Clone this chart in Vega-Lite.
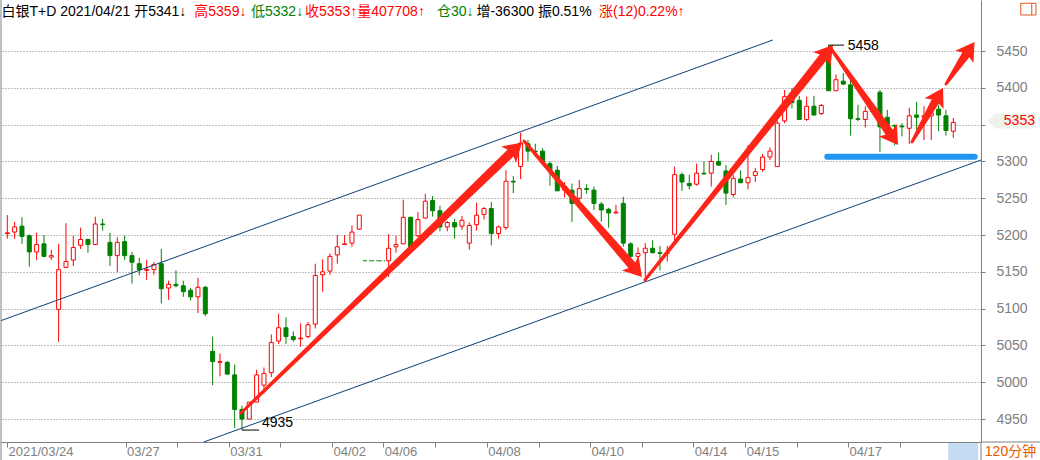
{
  "$schema": "https://vega.github.io/schema/vega-lite/v6.json",
  "width": 980,
  "height": 442,
  "autosize": {"type": "none"},
  "padding": {"left": 1, "top": 0, "right": 59, "bottom": 18},
  "background": "white",
  "config": {
    "view": {"stroke": null},
    "scale": {"continuousPadding": 0},
    "axis": {"labelFont": "Liberation Sans", "domainColor": "#808080", "tickColor": "#808080"},
    "text": {"font": "Liberation Sans, Noto Sans CJK SC"}
  },
  "datasets": {
    "candles": [
      {"i":0,"o":5202,"h":5227,"l":5195,"c":5203},
      {"i":1,"o":5204,"h":5218,"l":5195,"c":5211},
      {"i":2,"o":5212,"h":5224,"l":5188,"c":5198},
      {"i":3,"o":5199,"h":5201,"l":5157,"c":5177},
      {"i":4,"o":5177,"h":5203,"l":5166,"c":5187},
      {"i":5,"o":5188,"h":5200,"l":5170,"c":5171},
      {"i":6,"o":5170,"h":5180,"l":5166,"c":5172},
      {"i":7,"o":5099,"h":5188,"l":5055,"c":5153},
      {"i":8,"o":5156,"h":5216,"l":5156,"c":5164},
      {"i":9,"o":5166,"h":5199,"l":5158,"c":5183},
      {"i":10,"o":5186,"h":5210,"l":5181,"c":5194},
      {"i":11,"o":5194,"h":5195,"l":5176,"c":5187},
      {"i":12,"o":5187,"h":5225,"l":5187,"c":5215},
      {"i":13,"o":5215,"h":5222,"l":5206,"c":5214},
      {"i":14,"o":5190,"h":5203,"l":5158,"c":5172},
      {"i":15,"o":5172,"h":5197,"l":5150,"c":5190},
      {"i":16,"o":5191,"h":5199,"l":5166,"c":5172},
      {"i":17,"o":5172,"h":5177,"l":5134,"c":5163},
      {"i":18,"o":5161,"h":5169,"l":5145,"c":5153},
      {"i":19,"o":5152,"h":5166,"l":5139,"c":5153},
      {"i":20,"o":5153,"h":5163,"l":5146,"c":5160},
      {"i":21,"o":5161,"h":5181,"l":5107,"c":5127},
      {"i":22,"o":5128,"h":5138,"l":5112,"c":5133},
      {"i":23,"o":5133,"h":5152,"l":5129,"c":5131},
      {"i":24,"o":5131,"h":5138,"l":5116,"c":5123},
      {"i":25,"o":5125,"h":5128,"l":5111,"c":5116},
      {"i":26,"o":5116,"h":5142,"l":5094,"c":5129},
      {"i":27,"o":5129,"h":5131,"l":5090,"c":5093},
      {"i":28,"o":5042,"h":5062,"l":4996,"c":5028},
      {"i":29,"o":5027,"h":5039,"l":5008,"c":5028},
      {"i":30,"o":5027,"h":5029,"l":5011,"c":5011},
      {"i":31,"o":5010,"h":5024,"l":4938,"c":4963},
      {"i":32,"o":4963,"h":4968,"l":4935,"c":4950},
      {"i":33,"o":4950,"h":4973,"l":4950,"c":4973},
      {"i":34,"o":4973,"h":5017,"l":4973,"c":5010},
      {"i":35,"o":4996,"h":5020,"l":4985,"c":5012},
      {"i":36,"o":5013,"h":5065,"l":5007,"c":5054},
      {"i":37,"o":5056,"h":5093,"l":5052,"c":5074},
      {"i":38,"o":5074,"h":5088,"l":5052,"c":5062},
      {"i":39,"o":5062,"h":5069,"l":5055,"c":5058},
      {"i":40,"o":5059,"h":5080,"l":5048,"c":5060},
      {"i":41,"o":5062,"h":5082,"l":5060,"c":5078},
      {"i":42,"o":5079,"h":5161,"l":5073,"c":5145},
      {"i":43,"o":5146,"h":5167,"l":5123,"c":5150},
      {"i":44,"o":5151,"h":5175,"l":5146,"c":5171},
      {"i":45,"o":5173,"h":5200,"l":5161,"c":5184},
      {"i":46,"o":5187,"h":5200,"l":5187,"c":5188},
      {"i":47,"o":5189,"h":5213,"l":5184,"c":5204},
      {"i":48,"o":5208,"h":5227,"l":5207,"c":5227},
      {"i":49,"o":5165,"h":5165,"l":5165,"c":5165},
      {"i":50,"o":5165,"h":5165,"l":5165,"c":5165},
      {"i":51,"o":5165,"h":5165,"l":5165,"c":5165},
      {"i":52,"o":5165,"h":5201,"l":5143,"c":5182},
      {"i":53,"o":5184,"h":5199,"l":5176,"c":5187},
      {"i":54,"o":5188,"h":5248,"l":5188,"c":5224},
      {"i":55,"o":5224,"h":5225,"l":5182,"c":5184},
      {"i":56,"o":5199,"h":5231,"l":5197,"c":5221},
      {"i":57,"o":5223,"h":5256,"l":5222,"c":5246},
      {"i":58,"o":5247,"h":5253,"l":5225,"c":5233},
      {"i":59,"o":5233,"h":5240,"l":5205,"c":5211},
      {"i":60,"o":5211,"h":5219,"l":5205,"c":5217},
      {"i":61,"o":5217,"h":5222,"l":5195,"c":5211},
      {"i":62,"o":5212,"h":5226,"l":5207,"c":5220},
      {"i":63,"o":5189,"h":5217,"l":5180,"c":5213},
      {"i":64,"o":5214,"h":5244,"l":5206,"c":5227},
      {"i":65,"o":5228,"h":5238,"l":5221,"c":5236},
      {"i":66,"o":5236,"h":5245,"l":5186,"c":5202},
      {"i":67,"o":5202,"h":5213,"l":5195,"c":5211},
      {"i":68,"o":5210,"h":5288,"l":5207,"c":5273},
      {"i":69,"o":5273,"h":5280,"l":5257,"c":5272},
      {"i":70,"o":5293,"h":5339,"l":5276,"c":5325},
      {"i":71,"o":5324,"h":5329,"l":5300,"c":5314},
      {"i":72,"o":5314,"h":5324,"l":5306,"c":5313},
      {"i":73,"o":5314,"h":5318,"l":5295,"c":5298},
      {"i":74,"o":5297,"h":5300,"l":5267,"c":5287},
      {"i":75,"o":5288,"h":5294,"l":5260,"c":5260},
      {"i":76,"o":5261,"h":5272,"l":5251,"c":5266},
      {"i":77,"o":5261,"h":5270,"l":5218,"c":5243},
      {"i":78,"o":5250,"h":5275,"l":5244,"c":5263},
      {"i":79,"o":5263,"h":5269,"l":5256,"c":5262},
      {"i":80,"o":5261,"h":5266,"l":5234,"c":5243},
      {"i":81,"o":5242,"h":5245,"l":5218,"c":5234},
      {"i":82,"o":5235,"h":5237,"l":5210,"c":5230},
      {"i":83,"o":5230,"h":5241,"l":5229,"c":5231},
      {"i":84,"o":5243,"h":5252,"l":5184,"c":5189},
      {"i":85,"o":5188,"h":5190,"l":5167,"c":5171},
      {"i":86,"o":5171,"h":5183,"l":5166,"c":5175},
      {"i":87,"o":5176,"h":5189,"l":5137,"c":5182},
      {"i":88,"o":5182,"h":5193,"l":5175,"c":5176},
      {"i":89,"o":5176,"h":5185,"l":5152,"c":5175},
      {"i":90,"o":5175,"h":5185,"l":5164,"c":5176},
      {"i":91,"o":5201,"h":5293,"l":5193,"c":5282},
      {"i":92,"o":5282,"h":5285,"l":5260,"c":5272},
      {"i":93,"o":5270,"h":5282,"l":5262,"c":5267},
      {"i":94,"o":5269,"h":5297,"l":5267,"c":5284},
      {"i":95,"o":5284,"h":5300,"l":5282,"c":5283},
      {"i":96,"o":5284,"h":5309,"l":5266,"c":5300},
      {"i":97,"o":5300,"h":5312,"l":5294,"c":5295},
      {"i":98,"o":5287,"h":5295,"l":5241,"c":5257},
      {"i":99,"o":5255,"h":5282,"l":5251,"c":5277},
      {"i":100,"o":5276,"h":5288,"l":5271,"c":5271},
      {"i":101,"o":5271,"h":5322,"l":5262,"c":5278},
      {"i":102,"o":5281,"h":5291,"l":5272,"c":5286},
      {"i":103,"o":5289,"h":5310,"l":5286,"c":5306},
      {"i":104,"o":5306,"h":5319,"l":5302,"c":5314},
      {"i":105,"o":5293,"h":5356,"l":5293,"c":5352},
      {"i":106,"o":5355,"h":5397,"l":5352,"c":5388},
      {"i":107,"o":5388,"h":5400,"l":5372,"c":5380},
      {"i":108,"o":5383,"h":5389,"l":5357,"c":5357},
      {"i":109,"o":5357,"h":5388,"l":5355,"c":5375},
      {"i":110,"o":5375,"h":5389,"l":5363,"c":5363},
      {"i":111,"o":5365,"h":5378,"l":5363,"c":5376},
      {"i":112,"o":5442,"h":5458,"l":5396,"c":5396},
      {"i":113,"o":5396,"h":5418,"l":5396,"c":5411},
      {"i":114,"o":5409,"h":5420,"l":5404,"c":5405},
      {"i":115,"o":5404,"h":5420,"l":5335,"c":5358},
      {"i":116,"o":5358,"h":5377,"l":5355,"c":5357},
      {"i":117,"o":5357,"h":5375,"l":5346,"c":5368},
      {"i":118,"o":5369,"h":5370,"l":5366,"c":5368},
      {"i":119,"o":5394,"h":5397,"l":5313,"c":5347},
      {"i":120,"o":5360,"h":5370,"l":5329,"c":5349},
      {"i":121,"o":5349,"h":5350,"l":5322,"c":5348},
      {"i":122,"o":5348,"h":5352,"l":5334,"c":5347},
      {"i":123,"o":5345,"h":5373,"l":5324,"c":5362},
      {"i":124,"o":5363,"h":5381,"l":5343,"c":5360},
      {"i":125,"o":5360,"h":5375,"l":5329,"c":5362},
      {"i":126,"o":5362,"h":5368,"l":5329,"c":5366},
      {"i":127,"o":5371,"h":5377,"l":5341,"c":5363},
      {"i":128,"o":5362,"h":5370,"l":5335,"c":5342},
      {"i":129,"o":5341,"h":5359,"l":5332,"c":5353}
    ],
    "channel": [
      {"id":"upper","i":-0.859,"p":5083.7},
      {"id":"upper","i":104.4,"p":5465},
      {"id":"lower","i":26.8,"p":4918.8},
      {"id":"lower","i":132.78,"p":5301.9}
    ],
    "shaft": [
      {"id":"a","k":0,"i":31.87,"p":4958.2},{"id":"a","k":1,"i":69.02,"p":5315.1},
      {"id":"b","k":0,"i":70.46,"p":5327.7},{"id":"b","k":1,"i":85.48,"p":5155.3},
      {"id":"c","k":0,"i":86.96,"p":5138.9},{"id":"c","k":1,"i":111.58,"p":5445.4},
      {"id":"d","k":0,"i":112.19,"p":5455.4},{"id":"d","k":1,"i":120.54,"p":5335.7},
      {"id":"e","k":0,"i":123.37,"p":5326.4},{"id":"e","k":1,"i":126.99,"p":5389.1},
      {"id":"f","k":0,"i":128.01,"p":5405.2},{"id":"f","k":1,"i":130.98,"p":5448.8}
    ],
    "heads": [
      {"id":"a","fi":69.02,"fp":5315.1,"i":70.19,"p":5325.7},
      {"id":"b","fi":85.48,"fp":5155.3,"i":86.55,"p":5142.9},
      {"id":"c","fi":111.58,"fp":5445.4,"i":112.6,"p":5458.2},
      {"id":"d","fi":120.54,"fp":5335.7,"i":121.47,"p":5322.3},
      {"id":"e","fi":126.99,"fp":5389.1,"i":127.6,"p":5399.7},
      {"id":"f","fi":130.98,"fp":5448.8,"i":131.9,"p":5462.2}
    ],
    "header": [
      {"seg":"白银T+D 2021/04/21 开5341↓","at":-0.79,"tone":"k"},
      {"seg":"高5359↓","at":25.5,"tone":"r"},
      {"seg":"低5332↓","at":33.23,"tone":"g"},
      {"seg":"收5353↑量407708↑","at":40.6,"tone":"r"},
      {"seg":"仓30↓","at":58.6,"tone":"g"},
      {"seg":"增-36300 振0.51%","at":63.97,"tone":"k"},
      {"seg":"涨(12)0.22%↑","at":80.69,"tone":"r"}
    ],
    "one": [{}]
  },
  "layer": [
    {
      "data": {"name": "candles"},
      "transform": [{"filter": "datum.h > datum.l"}],
      "mark": {"type": "rule", "strokeWidth": 1},
      "encoding": {
        "x": {"field": "i", "type": "quantitative",
              "scale": {"domain": [-0.859, 132.78], "nice": false, "zero": false, "padding": 0},
              "axis": {"orient": "bottom", "title": null, "grid": false,
                       "values": [-0.04, 16.13, 23.1, 30.19, 37.19, 44.28, 51.27, 58.37, 65.38, 72.47, 79.46, 86.55, 93.55, 100.64, 107.65, 114.65, 121.74, 128.74],
                       "labelExpr": "datum.value < 0 ? '2021/03/24' : datum.value == 16.13 ? '03/27' : datum.value == 30.19 ? '03/31' : datum.value == 44.28 ? '04/02' : datum.value == 51.27 ? '04/06' : datum.value == 65.38 ? '04/08' : datum.value == 79.46 ? '04/10' : datum.value == 93.55 ? '04/14' : datum.value == 100.64 ? '04/15' : datum.value == 114.65 ? '04/17' : ''",
                       "tickSize": 5, "labelColor": "#808080", "labelFontSize": 13,
                       "labelAlign": "left", "labelBaseline": "top", "labelPadding": -2,
                       "labelOffset": 1, "labelFlush": false, "labelOverlap": false, "labelBound": false}},
        "y": {"field": "l", "type": "quantitative",
              "scale": {"domain": [4918.8, 5519.3], "nice": false, "zero": false},
              "axis": {"orient": "right", "title": null, "format": "d",
                       "values": [4950, 5000, 5050, 5100, 5150, 5200, 5250, 5300, 5350, 5400, 5450],
                       "labelExpr": "datum.value == 5350 ? '' : datum.label",
                       "grid": true, "gridColor": "#808080", "gridDash": [1, 2], "gridWidth": 1,
                       "tickSize": 4, "labelColor": "#808080", "labelFontSize": 14,
                       "labelAlign": "left", "labelPadding": 11, "labelBaseline": "middle", "labelFlush": false, "labelOverlap": false, "labelBound": false}},
        "y2": {"field": "h"},
        "color": {"condition": {"test": "datum.c >= datum.o", "value": "#ff0000"}, "value": "#008000"}
      }
    },
    {
      "data": {"name": "candles"},
      "transform": [{"filter": "datum.h > datum.l"}],
      "mark": {"type": "bar", "size": 4, "strokeWidth": 1},
      "encoding": {
        "x": {"field": "i", "type": "quantitative", "scale": {"domain": [-0.859, 132.78], "nice": false, "zero": false, "padding": 0}},
        "y": {"field": "o", "type": "quantitative", "scale": {"domain": [4918.8, 5519.3], "nice": false, "zero": false}},
        "y2": {"field": "c"},
        "fill": {"condition": {"test": "datum.c >= datum.o", "value": "#ffffff"}, "value": "#008000"},
        "stroke": {"condition": {"test": "datum.c >= datum.o", "value": "#ff0000"}, "value": "#008000"}
      }
    },
    {
      "data": {"name": "candles"},
      "transform": [{"filter": "datum.h == datum.l"}, {"calculate": "datum.i - 0.5", "as": "i0"}, {"calculate": "datum.i + 0.5", "as": "i1"}],
      "mark": {"type": "rule", "color": "#008000", "strokeWidth": 1, "strokeDash": [4, 2]},
      "encoding": {
        "x": {"field": "i0", "type": "quantitative"},
        "x2": {"field": "i1"},
        "y": {"field": "c", "type": "quantitative"}
      }
    },
    {
      "data": {"name": "channel"},
      "mark": {"type": "line", "color": "#0d3f7a", "strokeWidth": 1},
      "encoding": {
        "x": {"field": "i", "type": "quantitative"},
        "y": {"field": "p", "type": "quantitative"},
        "detail": {"field": "id"}
      }
    },
    {
      "data": {"name": "one"},
      "mark": {"type": "rule", "color": "#2196f3", "strokeWidth": 6, "strokeCap": "round"},
      "encoding": {
        "x": {"datum": 111.82, "type": "quantitative"},
        "x2": {"datum": 131.92},
        "y": {"datum": 5306.4, "type": "quantitative"}
      }
    },
    {
      "data": {"name": "shaft"},
      "mark": {"type": "trail", "color": "#ff2418"},
      "encoding": {
        "x": {"field": "i", "type": "quantitative"},
        "y": {"field": "p", "type": "quantitative"},
        "detail": {"field": "id"},
        "order": {"field": "k"},
        "size": {"field": "k", "type": "quantitative", "scale": {"domain": [0, 1], "range": [3, 9]}, "legend": null}
      }
    },
    {
      "data": {"name": "heads"},
      "transform": [{"calculate": "atan2((datum.i - datum.fi) * 7.333, (datum.p - datum.fp) * 0.736) * 180 / PI", "as": "ang"}],
      "mark": {"type": "point", "shape": "M0,0 L0.55,0.9 L0,0.7 L-0.55,0.9 Z", "size": 1600, "filled": true, "fill": "#ff2418", "strokeWidth": 0, "opacity": 1},
      "encoding": {
        "x": {"field": "i", "type": "quantitative"},
        "y": {"field": "p", "type": "quantitative"},
        "angle": {"field": "ang", "type": "quantitative", "scale": null}
      }
    },
    {
      "data": {"name": "one"},
      "mark": {"type": "rule", "color": "#000000", "strokeWidth": 1},
      "encoding": {
        "x": {"datum": 32.0, "type": "quantitative"},
        "x2": {"datum": 34.32},
        "y": {"datum": 4935, "type": "quantitative"}
      }
    },
    {
      "data": {"name": "one"},
      "mark": {"type": "text", "text": "4935", "fontSize": 14, "align": "left", "baseline": "alphabetic", "dy": -3, "color": "#000000"},
      "encoding": {
        "x": {"datum": 34.73, "type": "quantitative"},
        "y": {"datum": 4935, "type": "quantitative"}
      }
    },
    {
      "data": {"name": "one"},
      "mark": {"type": "rule", "color": "#000000", "strokeWidth": 1},
      "encoding": {
        "x": {"datum": 111.96, "type": "quantitative"},
        "x2": {"datum": 114.1},
        "y": {"datum": 5458, "type": "quantitative"}
      }
    },
    {
      "data": {"name": "one"},
      "mark": {"type": "text", "text": "5458", "fontSize": 14, "align": "left", "baseline": "middle", "color": "#000000"},
      "encoding": {
        "x": {"datum": 114.6, "type": "quantitative"},
        "y": {"datum": 5457, "type": "quantitative"}
      }
    },
    {
      "data": {"name": "header"},
      "mark": {"type": "text", "fontSize": 14, "align": "left", "baseline": "middle"},
      "encoding": {
        "x": {"field": "at", "type": "quantitative"},
        "y": {"datum": 5503, "type": "quantitative"},
        "text": {"field": "seg"},
        "color": {"field": "tone", "type": "nominal", "scale": {"domain": ["k", "r", "g"], "range": ["#000000", "#ff0000", "#008000"]}, "legend": null}
      }
    },
    {
      "data": {"name": "one"},
      "mark": {"type": "point", "shape": "M-1,0 L-0.67,-0.306 L1,-0.306 L1,0.306 L-0.67,0.306 Z", "size": 2401, "filled": true, "fill": "#eef3ec", "strokeWidth": 0, "opacity": 1},
      "encoding": {
        "x": {"datum": 136.94, "type": "quantitative"},
        "y": {"datum": 5355, "type": "quantitative"}
      }
    },
    {
      "data": {"name": "one"},
      "mark": {"type": "text", "text": "5353", "fontSize": 14, "align": "right", "baseline": "middle", "color": "#ff0000"},
      "encoding": {
        "x": {"datum": 140.14, "type": "quantitative"},
        "y": {"datum": 5355, "type": "quantitative"}
      }
    },
    {
      "data": {"name": "one"},
      "mark": {"type": "rect", "fill": "#ffffff", "fillOpacity": 0, "stroke": "#e05a1e", "strokeWidth": 1},
      "encoding": {
        "x": {"datum": 138.2, "type": "quantitative"},
        "x2": {"datum": 140.28},
        "y": {"datum": 5498.9, "type": "quantitative"},
        "y2": {"datum": 5514.8}
      }
    },
    {
      "data": {"name": "one"},
      "mark": {"type": "rule", "color": "#e05a1e", "strokeWidth": 1},
      "encoding": {
        "x": {"datum": 139.7, "type": "quantitative"},
        "y": {"datum": 5498.9, "type": "quantitative"},
        "y2": {"datum": 5514.8}
      }
    },
    {
      "data": {"name": "one"},
      "mark": {"type": "rect", "color": "#c6dcf5"},
      "encoding": {
        "x": {"datum": 128.3, "type": "quantitative"},
        "x2": {"datum": 132.4},
        "y": {"datum": 4917.4, "type": "quantitative"},
        "y2": {"datum": 4894.3}
      }
    },
    {
      "data": {"name": "one"},
      "mark": {"type": "text", "text": "120分钟", "fontSize": 14, "align": "left", "baseline": "middle", "color": "#e65c00"},
      "encoding": {
        "x": {"datum": 133.3, "type": "quantitative"},
        "y": {"datum": 4905.2, "type": "quantitative"}
      }
    },
    {
      "data": {"name": "one"},
      "mark": {"type": "rule", "color": "#808080", "strokeWidth": 1},
      "encoding": {
        "x": {"datum": 132.78, "type": "quantitative"},
        "y": {"datum": 4918.8, "type": "quantitative"},
        "y2": {"datum": 4894.3}
      }
    },
    {
      "data": {"name": "one"},
      "mark": {"type": "rule", "color": "#808080", "strokeWidth": 1},
      "encoding": {
        "x": {"datum": 132.78, "type": "quantitative"},
        "x2": {"datum": 140.85},
        "y": {"datum": 4918.8, "type": "quantitative"}
      }
    },
    {
      "data": {"name": "one"},
      "mark": {"type": "rule", "color": "#808080", "strokeWidth": 1},
      "encoding": {
        "x": {"datum": -0.859, "type": "quantitative"},
        "y": {"datum": 4894.3, "type": "quantitative"},
        "y2": {"datum": 5519.3}
      }
    }
  ]
}
